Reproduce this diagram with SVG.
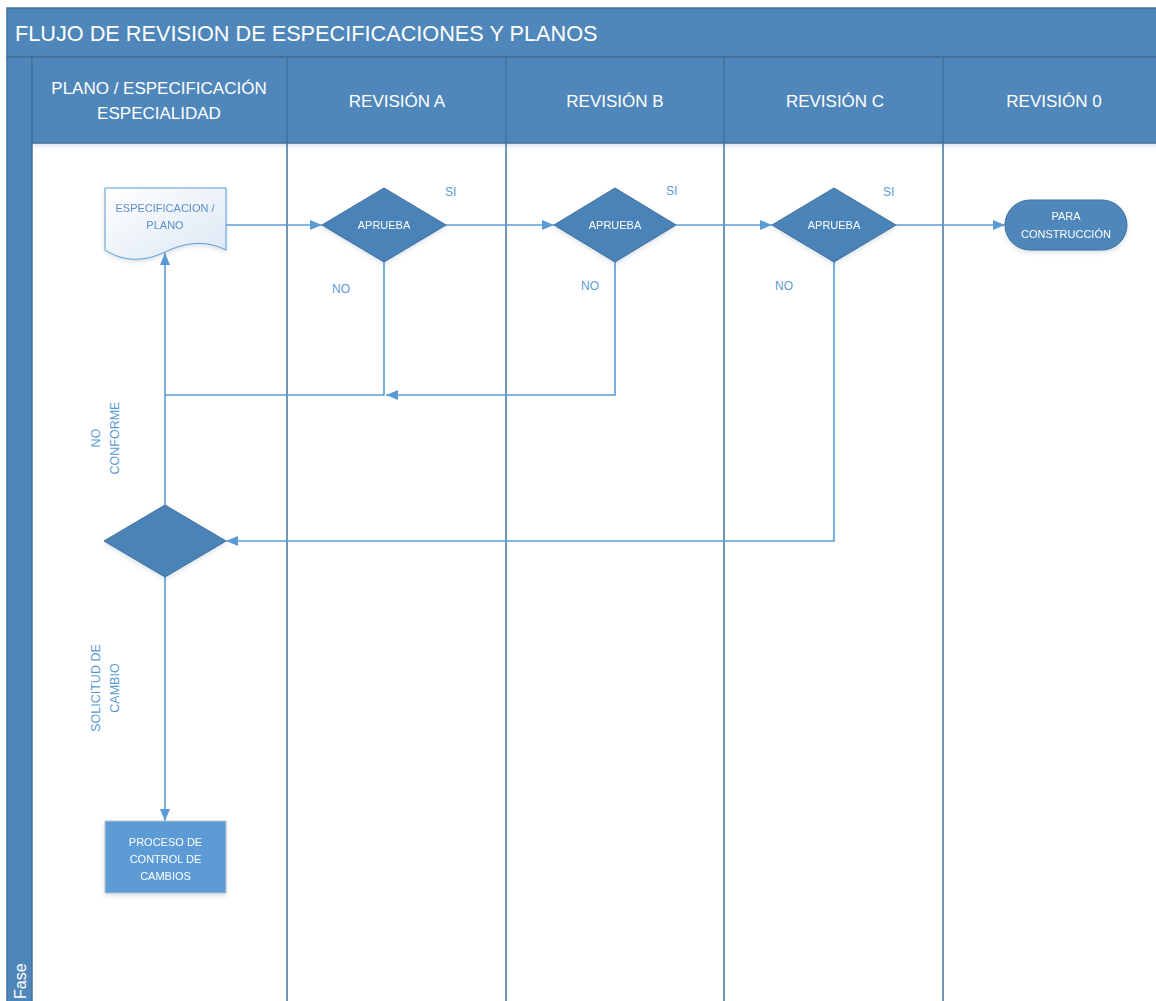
<svg xmlns="http://www.w3.org/2000/svg" width="1156" height="1001" viewBox="0 0 1156 1001">
  <style>
    .band { fill: #4F87BA; stroke: #41719C; stroke-width: 1.5; }
    .lane { stroke: #41719C; stroke-width: 1.5; fill: none; }
    .hdr { font-family: "Liberation Sans", Arial, sans-serif; font-size: 17px; fill: #FFFFFF; text-anchor: middle; }
    .title { font-family: "Liberation Sans", Arial, sans-serif; font-size: 21.7px; fill: #FFFFFF; }
    .dec { fill: #4A83B8; stroke: #41719C; stroke-width: 1; }
    .ntxt { font-family: "Liberation Sans", Arial, sans-serif; font-size: 11px; fill: #FFFFFF; text-anchor: middle; }
    .dtxt { font-family: "Liberation Sans", Arial, sans-serif; font-size: 11px; fill: #5B8FC7; text-anchor: middle; }
    .lbl { font-family: "Liberation Sans", Arial, sans-serif; font-size: 12px; fill: #5B9BD5; }
    .vlbl { font-family: "Liberation Sans", Arial, sans-serif; font-size: 12.5px; fill: #5B9BD5; text-anchor: middle; }
    .conn { stroke: #5B9BD5; stroke-width: 1.6; fill: none; }
    .arr { marker-end: url(#tri); }
  </style>
  <defs>
    <marker id="tri" viewBox="0 0 12 10" refX="12" refY="5" markerWidth="12" markerHeight="10" markerUnits="userSpaceOnUse" orient="auto">
      <path d="M0,0 L12,5 L0,10 Z" fill="#5B9BD5"/>
    </marker>
    <linearGradient id="docFill" x1="0" y1="0" x2="1" y2="1">
      <stop offset="0" stop-color="#FFFFFF"/>
      <stop offset="1" stop-color="#DCE7F4"/>
    </linearGradient>
    <filter id="sh" x="-20%" y="-20%" width="140%" height="150%">
      <feDropShadow dx="0" dy="2" stdDeviation="2" flood-color="#5B7FA8" flood-opacity="0.25"/>
    </filter>
  </defs>

  <rect width="1156" height="1001" fill="#FFFFFF"/>

  <!-- pool frame: title band, phase band and lane headers -->
  <g id="pool">
    <rect class="band" x="7" y="8" width="1160" height="49"/>
    <text class="title" x="15" y="41">FLUJO DE REVISION DE ESPECIFICACIONES Y PLANOS</text>
    <rect class="band" x="7" y="57" width="25" height="960"/>
    <text font-family="'Liberation Sans', Arial, sans-serif" font-size="16" fill="#FFFFFF" transform="translate(26,999) rotate(-90)">Fase</text>
    <rect class="band" x="32" y="57" width="1140" height="86" filter="url(#sh)"/>
    <line class="lane" x1="287" y1="57" x2="287" y2="1001"/>
    <line class="lane" x1="506" y1="57" x2="506" y2="1001"/>
    <line class="lane" x1="724" y1="57" x2="724" y2="1001"/>
    <line class="lane" x1="943" y1="57" x2="943" y2="1001"/>
    <text class="hdr" x="159" y="94">PLANO / ESPECIFICACIÓN</text>
    <text class="hdr" x="159" y="119">ESPECIALIDAD</text>
    <text class="hdr" x="397" y="107">REVISIÓN A</text>
    <text class="hdr" x="615" y="107">REVISIÓN B</text>
    <text class="hdr" x="835" y="107">REVISIÓN C</text>
    <text class="hdr" x="1054" y="107">REVISIÓN 0</text>
  </g>

  <!-- connectors -->
  <g id="connectors">
    <line class="conn arr" x1="226" y1="225" x2="322" y2="225"/>
    <line class="conn arr" x1="446" y1="225" x2="554" y2="225"/>
    <line class="conn arr" x1="676" y1="225" x2="772" y2="225"/>
    <line class="conn arr" x1="896" y1="225" x2="1005" y2="225"/>
    <polyline class="conn" points="384,262 384,395 165,395"/>
    <polyline class="conn arr" points="615,262 615,395 386,395"/>
    <polyline class="conn arr" points="834,262 834,541 226,541"/>
    <line class="conn arr" x1="165" y1="505" x2="165" y2="253"/>
    <line class="conn arr" x1="165" y1="577" x2="165" y2="821"/>
    <text class="lbl" x="445" y="196">SI</text>
    <text class="lbl" x="666" y="195">SI</text>
    <text class="lbl" x="883" y="196">SI</text>
    <text class="lbl" x="332" y="293">NO</text>
    <text class="lbl" x="581" y="290">NO</text>
    <text class="lbl" x="775" y="290">NO</text>
    <g transform="translate(100,438) rotate(-90)">
      <text class="vlbl" x="0" y="0">NO</text>
      <text class="vlbl" x="0" y="19">CONFORME</text>
    </g>
    <g transform="translate(100,688) rotate(-90)">
      <text class="vlbl" x="0" y="0">SOLICITUD DE</text>
      <text class="vlbl" x="0" y="19">CAMBIO</text>
    </g>
  </g>

  <!-- nodes -->
  <g id="doc-especificacion" filter="url(#sh)">
    <path d="M105,188 H226 V250 C206,240 186,242 165,252 C144,262 124,262 105,250 Z" fill="url(#docFill)" stroke="#5B9BD5" stroke-width="1"/>
    <text class="dtxt" x="165" y="212">ESPECIFICACION /</text>
    <text class="dtxt" x="165" y="229">PLANO</text>
  </g>

  <g id="dec-revision-a" filter="url(#sh)">
    <polygon class="dec" points="384,188 446,225 384,262 322,225"/>
    <text class="ntxt" x="384" y="229">APRUEBA</text>
  </g>

  <g id="dec-revision-b" filter="url(#sh)">
    <polygon class="dec" points="615,188 676,225 615,262 554,225"/>
    <text class="ntxt" x="615" y="229">APRUEBA</text>
  </g>

  <g id="dec-revision-c" filter="url(#sh)">
    <polygon class="dec" points="834,188 896,225 834,262 772,225"/>
    <text class="ntxt" x="834" y="229">APRUEBA</text>
  </g>

  <g id="term-construccion" filter="url(#sh)">
    <rect x="1005" y="200" width="122" height="50" rx="25" ry="25" fill="#4F87BA" stroke="#41719C" stroke-width="1"/>
    <text class="ntxt" x="1066" y="220">PARA</text>
    <text class="ntxt" x="1066" y="238">CONSTRUCCIÓN</text>
  </g>

  <g id="dec-conformidad" filter="url(#sh)">
    <polygon class="dec" points="165,505 226,541 165,577 104,541"/>
  </g>

  <g id="proc-control-cambios" filter="url(#sh)">
    <rect x="105" y="821" width="121" height="72" fill="#5B9BD5" stroke="#B8C4D0" stroke-width="1"/>
    <text class="ntxt" x="165.5" y="846" font-size="10.5">PROCESO DE</text>
    <text class="ntxt" x="165.5" y="863" font-size="10.5">CONTROL DE</text>
    <text class="ntxt" x="165.5" y="880" font-size="10.5">CAMBIOS</text>
  </g>
</svg>
